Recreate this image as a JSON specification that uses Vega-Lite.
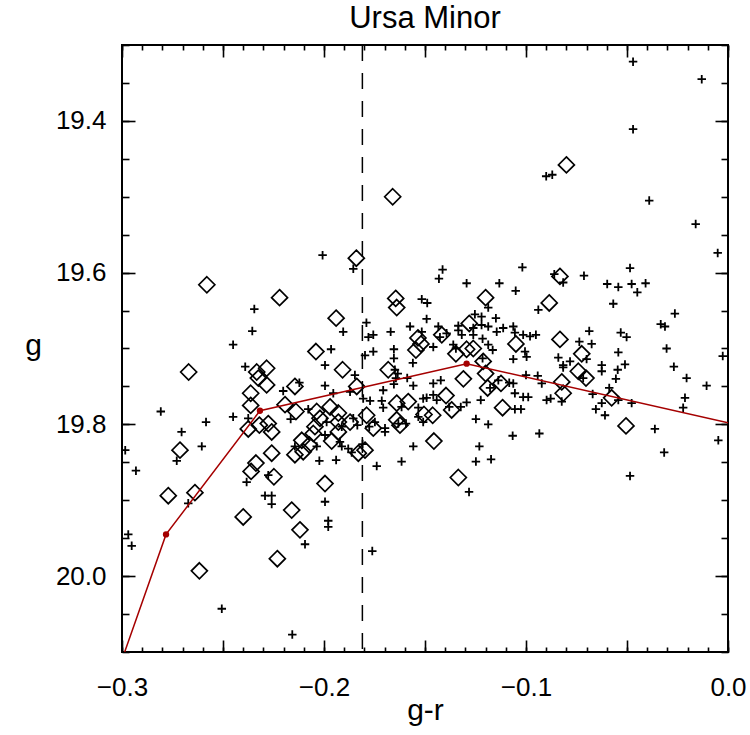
{
"$schema": "https://vega.github.io/schema/vega-lite/v6.json",
"width": 606, "height": 607,
"autosize": "none",
"padding": {"left": 122, "top": 45, "right": 22, "bottom": 83},
"background": "white",
"title": {"text": "Ursa Minor", "font": "Liberation Sans", "fontSize": 31, "fontWeight": "normal", "color": "black", "offset": 9},
"config": {"view": {"stroke": "black", "strokeWidth": 2},
  "axis": {"grid": false, "domain": false, "tickColor": "black", "tickWidth": 1.6, "labelFont": "Liberation Sans", "labelFontSize": 26, "labelColor": "black", "titleFont": "Liberation Sans", "titleFontSize": 30, "titleFontWeight": "normal", "titleColor": "black"}},
"datasets": {
"crosses": [
{"gr":-0.047,"g":19.322},{"gr":-0.013,"g":19.345},{"gr":-0.047,"g":19.411},{"gr":-0.090,"g":19.473},{"gr":-0.087,"g":19.471},{"gr":-0.039,"g":19.505},{"gr":-0.016,"g":19.536},{"gr":-0.2345,"g":19.648},{"gr":-0.2355,"g":19.677},{"gr":-0.245,"g":19.695},
{"gr":-0.2007,"g":19.577},{"gr":-0.1855,"g":19.595},{"gr":-0.1516,"g":19.635},{"gr":-0.1905,"g":19.678},{"gr":-0.179,"g":19.666},{"gr":-0.178,"g":19.685},{"gr":-0.1756,"g":19.682},{"gr":-0.167,"g":19.678},{"gr":-0.1574,"g":19.671},{"gr":-0.1516,"g":19.678},
{"gr":-0.1965,"g":19.701},{"gr":-0.1797,"g":19.709},{"gr":-0.1756,"g":19.704},{"gr":-0.1654,"g":19.701},{"gr":-0.1654,"g":19.713},{"gr":-0.156,"g":19.719},{"gr":-0.1995,"g":19.722},{"gr":-0.239,"g":19.724},{"gr":-0.2808,"g":19.783},{"gr":-0.2584,"g":19.797},
{"gr":-0.245,"g":19.790},{"gr":-0.2375,"g":19.792},{"gr":-0.2705,"g":19.810},{"gr":-0.2605,"g":19.829},{"gr":-0.2984,"g":19.834},{"gr":-0.2729,"g":19.848},{"gr":-0.2931,"g":19.861},{"gr":-0.2276,"g":19.867},{"gr":-0.2383,"g":19.876},{"gr":-0.2672,"g":19.904},
{"gr":-0.2292,"g":19.894},{"gr":-0.2259,"g":19.894},{"gr":-0.2259,"g":19.905},{"gr":-0.1995,"g":19.902},{"gr":-0.1979,"g":19.927},{"gr":-0.1979,"g":19.935},{"gr":-0.2094,"g":19.958},{"gr":-0.2969,"g":19.945},{"gr":-0.2952,"g":19.960},{"gr":-0.1761,"g":19.967},
{"gr":-0.2506,"g":20.043},{"gr":-0.2157,"g":20.077},{"gr":-0.1649,"g":19.728},{"gr":-0.1635,"g":19.733},{"gr":-0.1644,"g":19.739},{"gr":-0.1588,"g":19.739},{"gr":-0.1847,"g":19.735},{"gr":-0.1995,"g":19.749},{"gr":-0.2122,"g":19.745},{"gr":-0.2202,"g":19.756},
{"gr":-0.1654,"g":19.747},{"gr":-0.1558,"g":19.749},{"gr":-0.1707,"g":19.755},{"gr":-0.1871,"g":19.757},{"gr":-0.1954,"g":19.759},{"gr":-0.1806,"g":19.766},{"gr":-0.1772,"g":19.769},{"gr":-0.1714,"g":19.769},{"gr":-0.1707,"g":19.778},{"gr":-0.1616,"g":19.777},
{"gr":-0.1533,"g":19.778},{"gr":-0.1509,"g":19.766},{"gr":-0.2078,"g":19.780},{"gr":-0.2165,"g":19.793},{"gr":-0.1987,"g":19.797},{"gr":-0.1912,"g":19.803},{"gr":-0.1855,"g":19.792},{"gr":-0.1835,"g":19.801},{"gr":-0.1776,"g":19.803},{"gr":-0.1748,"g":19.797},
{"gr":-0.1698,"g":19.805},{"gr":-0.1698,"g":19.810},{"gr":-0.1632,"g":19.799},{"gr":-0.1594,"g":19.799},{"gr":-0.1533,"g":19.790},{"gr":-0.1509,"g":19.797},{"gr":-0.1995,"g":19.814},{"gr":-0.2144,"g":19.829},{"gr":-0.2036,"g":19.829},{"gr":-0.1921,"g":19.823},
{"gr":-0.1912,"g":19.829},{"gr":-0.188,"g":19.832},{"gr":-0.1863,"g":19.837},{"gr":-0.1809,"g":19.826},{"gr":-0.1558,"g":19.829},{"gr":-0.2023,"g":19.848},{"gr":-0.194,"g":19.847},{"gr":-0.1739,"g":19.855},{"gr":-0.1616,"g":19.849},{"gr":-0.1459,"g":19.746},
{"gr":-0.1422,"g":19.742},{"gr":-0.1492,"g":19.765},{"gr":-0.1459,"g":19.761},{"gr":-0.1442,"g":19.768},{"gr":-0.1178,"g":19.752},{"gr":-0.1137,"g":19.742},{"gr":-0.1083,"g":19.745},{"gr":-0.1063,"g":19.746},{"gr":-0.100,"g":19.735},{"gr":-0.0942,"g":19.736},
{"gr":-0.0922,"g":19.746},{"gr":-0.0816,"g":19.725},{"gr":-0.1055,"g":19.759},{"gr":-0.1014,"g":19.764},{"gr":-0.0989,"g":19.764},{"gr":-0.0898,"g":19.768},{"gr":-0.0878,"g":19.766},{"gr":-0.0823,"g":19.770},{"gr":-0.1224,"g":19.768},{"gr":-0.1294,"g":19.771},
{"gr":-0.1323,"g":19.777},{"gr":-0.138,"g":19.777},{"gr":-0.1055,"g":19.780},{"gr":-0.1025,"g":19.780},{"gr":-0.1248,"g":19.793},{"gr":-0.1187,"g":19.800},{"gr":-0.1066,"g":19.815},{"gr":-0.0934,"g":19.812},{"gr":-0.1231,"g":19.829},{"gr":-0.1248,"g":19.849},
{"gr":-0.1173,"g":19.846},{"gr":-0.1282,"g":19.889},{"gr":-0.1413,"g":19.596},{"gr":-0.1431,"g":19.608},{"gr":-0.1294,"g":19.614},{"gr":-0.1132,"g":19.614},{"gr":-0.1018,"g":19.593},{"gr":-0.1051,"g":19.624},{"gr":-0.086,"g":19.602},{"gr":-0.0816,"g":19.613},
{"gr":-0.1187,"g":19.646},{"gr":-0.0939,"g":19.649},{"gr":-0.1489,"g":19.640},{"gr":-0.1492,"g":19.661},{"gr":-0.1253,"g":19.655},{"gr":-0.122,"g":19.658},{"gr":-0.1149,"g":19.660},{"gr":-0.1335,"g":19.670},{"gr":-0.1335,"g":19.676},{"gr":-0.1261,"g":19.673},
{"gr":-0.122,"g":19.669},{"gr":-0.1187,"g":19.671},{"gr":-0.1145,"g":19.678},{"gr":-0.1113,"g":19.673},{"gr":-0.1063,"g":19.671},{"gr":-0.1055,"g":19.679},{"gr":-0.1014,"g":19.682},{"gr":-0.098,"g":19.684},{"gr":-0.0951,"g":19.682},{"gr":-0.1434,"g":19.671},
{"gr":-0.1426,"g":19.685},{"gr":-0.1393,"g":19.680},{"gr":-0.1318,"g":19.682},{"gr":-0.1261,"g":19.682},{"gr":-0.1215,"g":19.687},{"gr":-0.1459,"g":19.698},{"gr":-0.136,"g":19.695},{"gr":-0.1187,"g":19.695},{"gr":-0.1165,"g":19.702},{"gr":-0.1347,"g":19.700},
{"gr":-0.1215,"g":19.713},{"gr":-0.1005,"g":19.704},{"gr":-0.0997,"g":19.711},{"gr":-0.1063,"g":19.714},{"gr":-0.084,"g":19.712},{"gr":-0.0816,"g":19.722},{"gr":-0.0782,"g":19.717},{"gr":-0.0051,"g":19.574},{"gr":-0.0485,"g":19.594},{"gr":-0.0713,"g":19.604},
{"gr":-0.0598,"g":19.615},{"gr":-0.0543,"g":19.619},{"gr":-0.0477,"g":19.615},{"gr":-0.0408,"g":19.614},{"gr":-0.0449,"g":19.626},{"gr":-0.0568,"g":19.641},{"gr":-0.0263,"g":19.654},{"gr":-0.0333,"g":19.668},{"gr":-0.0312,"g":19.671},{"gr":-0.0687,"g":19.677},
{"gr":-0.0531,"g":19.679},{"gr":-0.0502,"g":19.685},{"gr":-0.0736,"g":19.691},{"gr":-0.0675,"g":19.694},{"gr":-0.0304,"g":19.700},{"gr":-0.070,"g":19.714},{"gr":-0.0543,"g":19.705},{"gr":-0.0026,"g":19.710},{"gr":-0.0625,"g":19.722},{"gr":-0.051,"g":19.721},
{"gr":-0.0268,"g":19.724},{"gr":-0.0717,"g":19.739},{"gr":-0.0625,"g":19.730},{"gr":-0.0546,"g":19.728},{"gr":-0.0555,"g":19.740},{"gr":-0.0205,"g":19.739},{"gr":-0.0106,"g":19.749},{"gr":-0.0588,"g":19.752},{"gr":-0.067,"g":19.760},{"gr":-0.0543,"g":19.768},
{"gr":-0.0477,"g":19.772},{"gr":-0.0625,"g":19.772},{"gr":-0.0654,"g":19.780},{"gr":-0.0609,"g":19.788},{"gr":-0.0213,"g":19.765},{"gr":-0.0222,"g":19.778},{"gr":-0.0362,"g":19.806},{"gr":-0.0048,"g":19.821},{"gr":-0.0316,"g":19.837},{"gr":-0.0485,"g":19.868}
],
"diamonds": [
{"gr":-0.080,"g":19.458},{"gr":-0.166,"g":19.500},{"gr":-0.258,"g":19.616},{"gr":-0.184,"g":19.581},{"gr":-0.222,"g":19.633},{"gr":-0.1645,"g":19.634},{"gr":-0.164,"g":19.646},{"gr":-0.194,"g":19.660},{"gr":-0.1535,"g":19.686},{"gr":-0.152,"g":19.694},
{"gr":-0.1545,"g":19.702},{"gr":-0.204,"g":19.704},{"gr":-0.267,"g":19.731},{"gr":-0.2333,"g":19.731},{"gr":-0.2284,"g":19.726},{"gr":-0.2325,"g":19.739},{"gr":-0.2284,"g":19.748},{"gr":-0.2363,"g":19.759},{"gr":-0.2363,"g":19.775},{"gr":-0.232,"g":19.801},
{"gr":-0.2375,"g":19.806},{"gr":-0.2276,"g":19.799},{"gr":-0.2259,"g":19.810},{"gr":-0.2713,"g":19.834},{"gr":-0.2259,"g":19.838},{"gr":-0.2337,"g":19.851},{"gr":-0.2361,"g":19.862},{"gr":-0.2248,"g":19.869},{"gr":-0.1995,"g":19.878},{"gr":-0.2771,"g":19.894},
{"gr":-0.2639,"g":19.890},{"gr":-0.240,"g":19.922},{"gr":-0.216,"g":19.913},{"gr":-0.2119,"g":19.939},{"gr":-0.2231,"g":19.977},{"gr":-0.2617,"g":19.993},{"gr":-0.1908,"g":19.728},{"gr":-0.1682,"g":19.728},{"gr":-0.2144,"g":19.750},{"gr":-0.1838,"g":19.750},
{"gr":-0.164,"g":19.772},{"gr":-0.1583,"g":19.770},{"gr":-0.2193,"g":19.774},{"gr":-0.2139,"g":19.783},{"gr":-0.2036,"g":19.783},{"gr":-0.197,"g":19.777},{"gr":-0.1929,"g":19.785},{"gr":-0.202,"g":19.792},{"gr":-0.1929,"g":19.797},{"gr":-0.1871,"g":19.797},
{"gr":-0.1789,"g":19.788},{"gr":-0.1756,"g":19.805},{"gr":-0.164,"g":19.794},{"gr":-0.1624,"g":19.801},{"gr":-0.1505,"g":19.787},{"gr":-0.2045,"g":19.803},{"gr":-0.2053,"g":19.812},{"gr":-0.1929,"g":19.810},{"gr":-0.1962,"g":19.822},{"gr":-0.211,"g":19.821},
{"gr":-0.2073,"g":19.827},{"gr":-0.2103,"g":19.836},{"gr":-0.2144,"g":19.840},{"gr":-0.183,"g":19.838},{"gr":-0.1797,"g":19.834},{"gr":-0.131,"g":19.740},{"gr":-0.120,"g":19.733},{"gr":-0.1396,"g":19.762},{"gr":-0.119,"g":19.752},{"gr":-0.1124,"g":19.746},
{"gr":-0.0823,"g":19.744},{"gr":-0.0816,"g":19.759},{"gr":-0.1368,"g":19.781},{"gr":-0.1116,"g":19.778},{"gr":-0.1462,"g":19.788},{"gr":-0.1456,"g":19.822},{"gr":-0.1335,"g":19.870},{"gr":-0.0832,"g":19.605},{"gr":-0.120,"g":19.633},{"gr":-0.0885,"g":19.640},
{"gr":-0.1281,"g":19.667},{"gr":-0.1417,"g":19.682},{"gr":-0.105,"g":19.694},{"gr":-0.0832,"g":19.688},{"gr":-0.1347,"g":19.707},{"gr":-0.1294,"g":19.701},{"gr":-0.1261,"g":19.700},{"gr":-0.1212,"g":19.717},{"gr":-0.0724,"g":19.707},{"gr":-0.0741,"g":19.730},
{"gr":-0.0703,"g":19.739},{"gr":-0.0576,"g":19.765},{"gr":-0.0505,"g":19.802}
],
"curve": [{"gr":-0.3,"g":20.11},{"gr":-0.2782,"g":19.945},{"gr":-0.2317,"g":19.782},{"gr":-0.1294,"g":19.720},{"gr":0.0,"g":19.798}],
"knots": [{"gr":-0.2782,"g":19.945},{"gr":-0.2317,"g":19.782},{"gr":-0.1294,"g":19.720}],
"cut": [{"gr":-0.181}]
},
"resolve": {"axis": {"x": "independent", "y": "independent"}},
"layer": [
{"data": {"name": "crosses"},
 "mark": {"type": "point", "shape": "M-1,0L1,0M0,-1L0,1", "filled": false, "stroke": "black", "strokeWidth": 1.8, "size": 72, "opacity": 1},
 "encoding": {
  "x": {"field": "gr", "type": "quantitative", "scale": {"domain": [-0.3, 0.0], "nice": false, "zero": false},
        "axis": {"orient": "bottom", "values": [-0.3, -0.2, -0.1, 0.0], "format": ".1f", "ticks": false, "labelPadding": 22, "labelBaseline": "top", "labelFlush": false, "title": "g-r", "titleY": 58, "titleBaseline": "middle"}},
  "y": {"field": "g", "type": "quantitative", "scale": {"domain": [19.3, 20.1], "nice": false, "zero": false, "reverse": true},
        "axis": {"orient": "left", "values": [19.4, 19.6, 19.8, 20.0], "format": ".1f", "ticks": false, "labelPadding": 16, "labelFlush": false, "title": "g", "titleAngle": 0, "titleX": -89, "titleY": 300, "titleBaseline": "middle", "titleAlign": "center"}}
 }},
{"data": {"name": "diamonds"},
 "mark": {"type": "point", "shape": "M0,-1L1,0L0,1L-1,0Z", "filled": false, "stroke": "black", "strokeWidth": 1.7, "size": 256, "opacity": 1},
 "encoding": {
  "x": {"field": "gr", "type": "quantitative", "scale": {"domain": [-0.3, 0.0], "nice": false, "zero": false},
        "axis": {"orient": "bottom", "values": [-0.3,-0.29,-0.28,-0.27,-0.26,-0.25,-0.24,-0.23,-0.22,-0.21,-0.2,-0.19,-0.18,-0.17,-0.16,-0.15,-0.14,-0.13,-0.12,-0.11,-0.1,-0.09,-0.08,-0.07,-0.06,-0.05,-0.04,-0.03,-0.02,-0.01,0.0], "labels": false, "tickSize": -5, "title": null}},
  "y": {"field": "g", "type": "quantitative", "scale": {"domain": [19.3, 20.1], "nice": false, "zero": false, "reverse": true},
        "axis": {"orient": "left", "values": [19.3,19.35,19.4,19.45,19.5,19.55,19.6,19.65,19.7,19.75,19.8,19.85,19.9,19.95,20.0,20.05,20.1], "labels": false, "tickSize": -7, "title": null}}
 }},
{"data": {"name": "curve"},
 "mark": {"type": "line", "color": "#a50000", "strokeWidth": 1.5, "clip": true},
 "encoding": {
  "x": {"field": "gr", "type": "quantitative", "scale": {"domain": [-0.3, 0.0], "nice": false, "zero": false},
        "axis": {"orient": "bottom", "values": [-0.3,-0.25,-0.2,-0.15,-0.1,-0.05,0.0], "labels": false, "tickSize": -12, "title": null}},
  "y": {"field": "g", "type": "quantitative", "scale": {"domain": [19.3, 20.1], "nice": false, "zero": false, "reverse": true},
        "axis": {"orient": "left", "values": [19.4, 19.6, 19.8, 20.0], "labels": false, "tickSize": -13, "title": null}}
 }},
{"data": {"name": "knots"},
 "mark": {"type": "point", "shape": "circle", "filled": true, "color": "#a50000", "size": 40, "opacity": 1},
 "encoding": {
  "x": {"field": "gr", "type": "quantitative", "scale": {"domain": [-0.3, 0.0], "nice": false, "zero": false},
        "axis": {"orient": "top", "values": [-0.3,-0.29,-0.28,-0.27,-0.26,-0.25,-0.24,-0.23,-0.22,-0.21,-0.2,-0.19,-0.18,-0.17,-0.16,-0.15,-0.14,-0.13,-0.12,-0.11,-0.1,-0.09,-0.08,-0.07,-0.06,-0.05,-0.04,-0.03,-0.02,-0.01,0.0], "labels": false, "tickSize": -5, "title": null}},
  "y": {"field": "g", "type": "quantitative", "scale": {"domain": [19.3, 20.1], "nice": false, "zero": false, "reverse": true},
        "axis": {"orient": "right", "values": [19.3,19.35,19.4,19.45,19.5,19.55,19.6,19.65,19.7,19.75,19.8,19.85,19.9,19.95,20.0,20.05,20.1], "labels": false, "tickSize": -7, "title": null}}
 }},
{"data": {"name": "cut"},
 "mark": {"type": "rule", "color": "black", "strokeWidth": 1.5, "strokeDash": [16, 12]},
 "encoding": {
  "x": {"field": "gr", "type": "quantitative", "scale": {"domain": [-0.3, 0.0], "nice": false, "zero": false},
        "axis": {"orient": "top", "values": [-0.3,-0.25,-0.2,-0.15,-0.1,-0.05,0.0], "labels": false, "tickSize": -12, "title": null}},
  "y": {"datum": 19.3, "type": "quantitative", "scale": {"domain": [19.3, 20.1], "nice": false, "zero": false, "reverse": true},
        "axis": {"orient": "right", "values": [19.4, 19.6, 19.8, 20.0], "labels": false, "tickSize": -13, "title": null}},
  "y2": {"datum": 20.1}
 }}
]
}
